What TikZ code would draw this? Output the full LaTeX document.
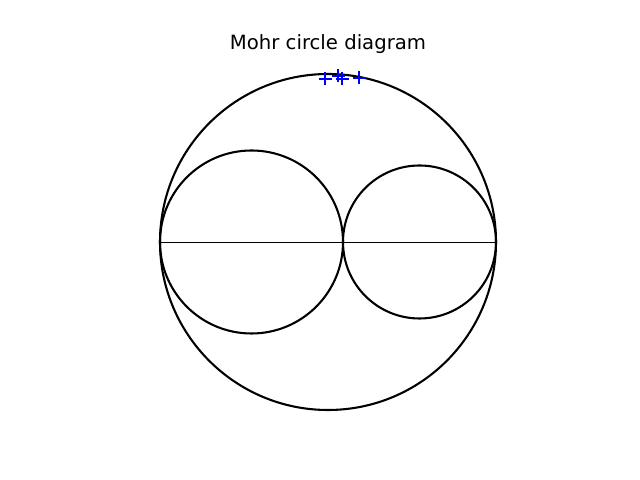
\documentclass[tikz,border=0pt]{standalone}
\usepackage{fontspec}
\setmainfont{DejaVu Sans}
\begin{document}
\begin{tikzpicture}[x=0.01in,y=0.01in,
  ring/.style={line width=1.5pt},
  pmark/.style={blue,line width=1.2pt}]
\useasboundingbox (0,0) rectangle (640,480);
\node (title) at (328,436) {\fontsize{14.2}{17}\selectfont Mohr circle diagram};
% circles
\coordinate (C0) at (328,238);
\coordinate (C1) at (251.5,238);
\coordinate (C2) at (419.5,238);
\draw[ring] (C0) circle (168);
\draw[ring] (C1) circle (91.5);
\draw[ring] (C2) circle (76.5);
% axis
\coordinate (L) at (160,238);
\coordinate (R) at (496,238);
\draw[line width=0.5pt] (L) -- (R);
% points
\foreach \px/\py in {325/401, 338/404, 342/401, 359/402}
  \draw[pmark] (\px-6.5,\py) -- (\px+6.5,\py) (\px,\py-6.5) -- (\px,\py+6.5);
\end{tikzpicture}
\end{document}
